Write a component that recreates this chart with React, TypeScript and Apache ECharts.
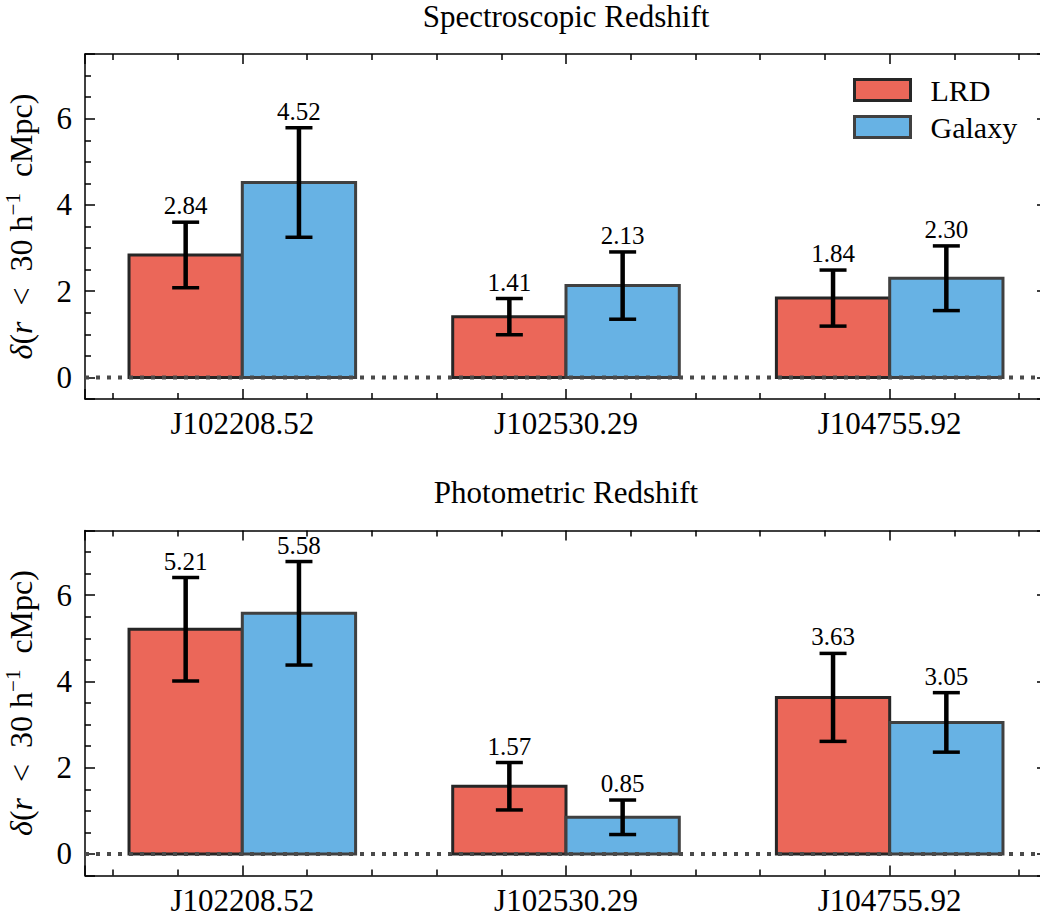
import React, { useEffect, useRef } from "react";
import * as echarts from "echarts";

const CATEGORIES = ["J102208.52", "J102530.29", "J104755.92"];
const SERIES_NAMES = ["LRD", "Galaxy"];
const PANEL_TITLES = ["Spectroscopic Redshift", "Photometric Redshift"];

const SPEC_LRD = [2.84, 1.41, 1.84];
const SPEC_LRD_ERR = [0.76, 0.42, 0.65];
const SPEC_GAL = [4.52, 2.13, 2.3];
const SPEC_GAL_ERR = [1.27, 0.78, 0.75];

const PHOT_LRD = [5.21, 1.57, 3.63];
const PHOT_LRD_ERR = [1.2, 0.55, 1.02];
const PHOT_GAL = [5.58, 0.85, 3.05];
const PHOT_GAL_ERR = [1.2, 0.4, 0.69];

const Y_TICKS = [0, 2, 4, 6];

const FONT = "'Liberation Serif', 'DejaVu Serif', serif";
const BAR_W = 0.35;
const X_MIN = -0.486;
const X_MAX = 2.486;
const FILLS = ["#EB6759", "#67B2E4"];
const EDGES = ["#262626", "#404040"];

const PANELS = [
  { vals: [SPEC_LRD, SPEC_GAL], errs: [SPEC_LRD_ERR, SPEC_GAL_ERR] },
  { vals: [PHOT_LRD, PHOT_GAL], errs: [PHOT_LRD_ERR, PHOT_GAL_ERR] },
];

const GRID_TOP = [54, 530.5];

export default function App() {
  const ref = useRef<HTMLDivElement>(null);
  useEffect(() => {
    if (!ref.current) return;
    const chart = echarts.init(ref.current, null, { renderer: "svg" });
    const axisLineStyle = { color: "#000", width: 1.5 };

    const grids: any[] = [];
    const xAxes: any[] = [];
    const yAxes: any[] = [];
    const series: any[] = [];
    const titles: any[] = [];

    PANELS.forEach((panel, g) => {
      grids.push({
        left: 85,
        top: GRID_TOP[g],
        width: 962,
        height: 345,
        containLabel: false,
        outerBoundsMode: "none",
      });
      titles.push({
        text: PANEL_TITLES[g],
        left: 566,
        textAlign: "center",
        top: GRID_TOP[g] - 53,
        padding: 0,
        textStyle: { fontFamily: FONT, fontSize: 31, lineHeight: 30, fontWeight: "normal", color: "#000" },
      });
      ["bottom", "top"].forEach((pos) => {
        xAxes.push({
          type: "value",
          gridIndex: g,
          position: pos,
          min: X_MIN,
          max: X_MAX,
          minInterval: 1,
          maxInterval: 1,
          splitNumber: 3,
          axisLine: { show: true, onZero: false, lineStyle: axisLineStyle },
          axisTick: { show: true, inside: true, length: 10, lineStyle: axisLineStyle },
          minorTick: { show: true, splitNumber: 5, length: 6, lineStyle: axisLineStyle },
          splitLine: { show: false },
          minorSplitLine: { show: false },
          axisLabel: {
            show: pos === "bottom",
            showMinLabel: false,
            showMaxLabel: false,
            formatter: (v: number) => (Number.isInteger(v) && CATEGORIES[v] ? CATEGORIES[v] : ""),
            fontFamily: FONT,
            fontSize: 31,
            color: "#000",
            margin: 9,
          },
        });
      });
      ["left", "right"].forEach((pos) => {
        yAxes.push({
          type: "value",
          gridIndex: g,
          position: pos,
          min: -0.5,
          max: 7.5,
          minInterval: 2,
          maxInterval: 2,
          splitNumber: 4,
          axisLine: { show: true, onZero: false, lineStyle: axisLineStyle },
          axisTick: { show: true, inside: true, length: 10, lineStyle: axisLineStyle },
          minorTick: { show: true, splitNumber: 4, length: 6, lineStyle: axisLineStyle },
          splitLine: { show: false },
          minorSplitLine: { show: false },
          axisLabel: {
            show: pos === "left",
            formatter: (v: number) => (Y_TICKS.includes(v) ? String(v) : ""),
            fontFamily: FONT,
            fontSize: 31,
            color: "#000",
            margin: 13,
          },
          name:
            pos === "left"
              ? "{i|δ}{n|(}{i|r}{n|\u2002<\u200230 h}{s|−1}{n|\u2002cMpc)}"
              : "",
          nameLocation: "middle",
          nameRotate: 90,
          nameGap: 45,
          nameTextStyle: {
            fontFamily: FONT,
            color: "#000",
            rich: {
              i: { fontFamily: FONT, fontSize: 32, fontStyle: "italic", color: "#000", lineHeight: 38 },
              n: { fontFamily: FONT, fontSize: 32, color: "#000", lineHeight: 38 },
              s: { fontFamily: FONT, fontSize: 21, color: "#000", lineHeight: 21, verticalAlign: "top" },
            },
          },
        });
      });

      const xi = g * 2;
      const yi = g * 2;
      SERIES_NAMES.forEach((name, k) => {
        const off = (k === 0 ? -1 : 1) * (BAR_W / 2);
        const vals = panel.vals[k];
        const errs = panel.errs[k];
        series.push({
          type: "custom",
          name,
          xAxisIndex: xi,
          yAxisIndex: yi,
          z: 2 + k * 0.1,
          encode: { x: 0, y: 1 },
          data: vals.map((v, i) => [i, v]),
          renderItem: (params: any, api: any) => {
            const x = api.value(0) + off;
            const v = api.value(1);
            const p0 = api.coord([x - BAR_W / 2, v]);
            const p1 = api.coord([x + BAR_W / 2, 0]);
            return {
              type: "rect",
              shape: { x: p0[0], y: p0[1], width: p1[0] - p0[0], height: p1[1] - p0[1] },
              style: { fill: FILLS[k], stroke: EDGES[k], lineWidth: 3 },
            };
          },
        });
        series.push({
          type: "custom",
          name: name + "-err",
          xAxisIndex: xi,
          yAxisIndex: yi,
          z: 4,
          encode: { x: 0, y: 1 },
          data: vals.map((v, i) => [i, v, errs[i]]),
          renderItem: (params: any, api: any) => {
            const x = api.value(0) + off;
            const v = api.value(1);
            const e = api.value(2);
            const top = api.coord([x, v + e]);
            const bot = api.coord([x, v - e]);
            const cx = top[0];
            const cap = 13.5;
            return {
              type: "group",
              children: [
                { type: "line", shape: { x1: cx, y1: top[1], x2: cx, y2: bot[1] }, style: { stroke: "#000", lineWidth: 4.5 } },
                { type: "line", shape: { x1: cx - cap, y1: top[1], x2: cx + cap, y2: top[1] }, style: { stroke: "#000", lineWidth: 3.5 } },
                { type: "line", shape: { x1: cx - cap, y1: bot[1], x2: cx + cap, y2: bot[1] }, style: { stroke: "#000", lineWidth: 3.5 } },
                {
                  type: "text",
                  x: cx,
                  y: top[1] - 4,
                  style: {
                    text: v.toFixed(2),
                    align: "center",
                    verticalAlign: "bottom",
                    fontFamily: FONT,
                    fontSize: 25,
                    fill: "#000",
                  },
                },
              ],
            };
          },
        });
      });
      series.push({
        type: "line",
        name: "zero",
        xAxisIndex: xi,
        yAxisIndex: yi,
        z: 5,
        symbol: "none",
        silent: true,
        data: [
          [X_MIN, 0],
          [X_MAX, 0],
        ],
        lineStyle: { color: "#4a4a4a", width: 4, type: [4, 7], cap: "butt" },
      });
    });

    chart.setOption({
      animation: false,
      backgroundColor: "#fff",
      title: titles,
      grid: grids,
      xAxis: xAxes,
      yAxis: yAxes,
      legend: {
        orient: "vertical",
        left: 853,
        top: 75,
        padding: 0,
        itemWidth: 56,
        itemHeight: 21,
        itemGap: 7,
        selectedMode: false,
        icon: "rect",
        data: SERIES_NAMES.map((n, k) => ({
          name: n,
          icon: "rect",
          itemStyle: { color: FILLS[k], borderColor: EDGES[k], borderWidth: 3 },
        })),
        textStyle: { fontFamily: FONT, fontSize: 30, color: "#000", padding: [0, 0, 0, 15] },
      },
      series,
    });
    return () => chart.dispose();
  }, []);
  return (
    <div
      ref={ref}
      style={{ position: "absolute", left: 0, top: 0, width: 1040, height: 920, background: "#fff" }}
    />
  );
}
